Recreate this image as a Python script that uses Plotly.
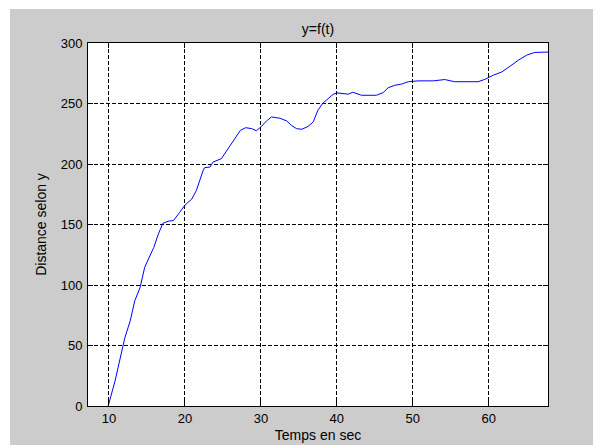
import plotly.graph_objects as go

# Data
t_sec = [9.9, 10.8, 11.7, 12.1, 12.8, 13.4, 14.1, 14.7, 15.3, 15.9, 16.5, 17.1, 17.8, 18.5,
         19.3, 20.0, 20.9, 21.5, 22.4, 22.6, 23.3, 23.7, 24.8, 25.7, 26.6, 27.3, 28.0, 28.8,
         29.4, 30.0, 30.75, 31.4, 32.5, 33.4, 34.0, 34.7, 35.4, 36.2, 36.9, 37.5, 38.2, 38.9,
         39.5, 40.0, 41.1, 41.5, 42.1, 42.6, 43.25, 45.2, 46.1, 46.75, 47.6, 48.5, 49.4, 50.7,
         52.7, 54.2, 55.5, 58.6, 59.5, 60.6, 61.7, 62.8, 63.9, 65.0, 66.05, 67.8]
dist_y = [0, 20.7, 45.6, 56.6, 70.4, 87, 98, 114.6, 122.9, 131, 142, 151, 152.7, 153.3,
          160, 166, 171, 178, 194.7, 197, 197.5, 201.6, 204.4, 212.6, 221, 227.8, 230, 229.2,
          227.5, 230.6, 235.6, 238.9, 237.8, 235.6, 232, 229.2, 228.7, 231, 234.8, 244.4, 250.5, 254,
          257.5, 258.8, 258.2, 257.7, 259.3, 258.2, 256.8, 256.8, 259, 263, 265, 266, 268, 268.7,
          268.7, 269.8, 268, 268, 270, 273.4, 276, 280.8, 285.8, 290, 292.2, 292.5]
x_ticks = [10, 20, 30, 40, 50, 60]
y_ticks = [0, 50, 100, 150, 200, 250, 300]

FONT = "Liberation Sans, Arial, sans-serif"
W, H = 593, 437          # page body has an 8px margin
ML, MR, MT, MB = 80, 53, 35, 39
PW, PH = W - ML - MR, H - MT - MB

fig = go.Figure()
fig.add_trace(go.Scatter(x=t_sec, y=dist_y, mode="lines",
                         line=dict(color="#0000ff", width=1), showlegend=False))

axis_common = dict(
    showline=True, linecolor="black", linewidth=1, mirror="ticks",
    ticks="inside", ticklen=5, tickcolor="black",
    showgrid=True, gridcolor="black", gridwidth=1, griddash="4px,2px",
    zeroline=False, tickfont=dict(family=FONT, size=13, color="black"),
)

fig.update_layout(
    width=W, height=H,
    margin=dict(l=ML, r=MR, t=MT, b=MB, autoexpand=False),
    paper_bgcolor="white",
    plot_bgcolor="rgba(0,0,0,0)",
    font=dict(family=FONT, size=13, color="black"),
    title=dict(text="y=f(t)", x=0.5, xref="paper", xanchor="center",
               y=1 - 21 / H, yref="container", yanchor="middle",
               font=dict(family=FONT, size=14, color="black")),
    xaxis=dict(range=[7.24, 67.8], tickvals=x_ticks,
               title=dict(text="Temps en sec", standoff=5,
                          font=dict(family=FONT, size=14, color="black")),
               automargin=False, **axis_common),
    yaxis=dict(range=[0, 300], tickvals=y_ticks, ticklabelstandoff=2,
               title=dict(text="Distance selon y", standoff=10,
                          font=dict(family=FONT, size=14, color="black")),
               automargin=False, **axis_common),
    shapes=[
        dict(type="rect", xref="paper", yref="paper", layer="below",
             x0=(2 - ML) / PW, x1=1.3, y0=-0.3, y1=1 + (MT - 1) / PH,
             fillcolor="#cccccc", line=dict(width=0)),
        dict(type="rect", xref="paper", yref="paper", layer="below",
             x0=0, x1=1, y0=0, y1=1,
             fillcolor="white", line=dict(width=0)),
    ],
)

fig.write_html("out.html")
